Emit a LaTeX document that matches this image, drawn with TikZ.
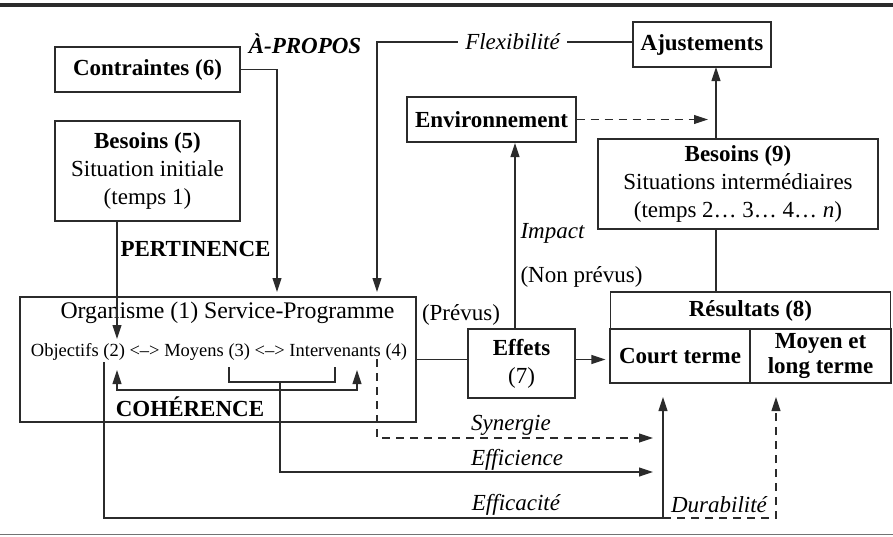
\documentclass[tikz,border=0pt]{standalone}
\usepackage{fontspec}
\setmainfont{Liberation Serif}
\usetikzlibrary{calc,arrows.meta}
\definecolor{ink}{HTML}{2B2B2B}

\begin{document}
\begin{tikzpicture}[x=1pt,y=-1pt,
  font=\fontsize{23}{28}\selectfont, line width=1.1pt,
  ln/.style={draw=ink},
  box/.style={draw=ink,inner sep=0pt,align=center},
  lbl/.style={inner sep=1pt},
  arr/.style={draw=ink,-{Triangle[length=14pt,width=9pt]}},
  darr/.style={draw=ink,{Triangle[length=14pt,width=9pt]}-{Triangle[length=14pt,width=9pt]}},
  dsh/.style={dash pattern=on 8pt off 6pt}]

  \useasboundingbox (0,0) rectangle (893,536);
  \draw[ln,line width=3.5pt] (0,5) -- (893,5);
  \draw[draw=black!55,line width=1pt] (0,534) -- (893,534);

  % boxes
  \node[box,minimum width=185pt,minimum height=45pt] (contr) at (147.5,69.5) {\bfseries Contraintes (6)};
  \node[box,minimum width=185pt,minimum height=100pt] (bes5) at (147.5,171) {\textbf{Besoins (5)}\\Situation initiale\\(temps 1)};
  \node[box,minimum width=138pt,minimum height=45pt] (ajust) at (702,44.5) {\bfseries Ajustements};
  \node[box,minimum width=169pt,minimum height=45pt] (env) at (491.5,119.5) {\bfseries Environnement};
  \node[box,minimum width=280pt,minimum height=90pt] (bes9) at (738,184) {\textbf{Besoins (9)}\\Situations intermédiaires\\(temps 2… 3… 4… \textit{n})};
  \node[box,minimum width=396pt,minimum height=125pt] (org) at (218,359.5) {};
  \node[lbl] (orgT) at (227.5,313) {\fontsize{23.8}{28}\selectfont Organisme (1) Service-Programme};
  \node[lbl] (orgS) at (219,352) {\fontsize{18.5}{22}\selectfont Objectifs (2) <–> Moyens (3) <–> Intervenants (4)};
  \node[box,minimum width=107pt,minimum height=69pt] (effets) at (521.5,363.5) {\textbf{Effets}\\(7)};
  \node[box,minimum width=280pt,minimum height=37pt] (res) at (750.5,310.5) {\bfseries Résultats (8)};
  \node[box,minimum width=140pt,minimum height=54pt] (court) at (680,356) {\bfseries Court terme};
  \node[box,minimum width=141pt,minimum height=54pt,font=\fontsize{23}{25}\selectfont\bfseries] (moyen) at (820.5,356) {Moyen et\\long terme};

  % labels
  \node[lbl] (apropos) at (305,44) {\bfseries\itshape À-PROPOS};
  \node[lbl] (pert) at (195.5,249) {\bfseries PERTINENCE};
  \node[lbl] (coh) at (190,407) {\bfseries COHÉRENCE};
  \node[inner sep=7pt] (flex) at (512.5,42) {\itshape Flexibilité};
  \node[lbl,anchor=west] (impact) at (519,233) {\itshape Impact};
  \node[lbl,anchor=west] (nonprev) at (519,277) {(Non prévus)};
  \node[lbl] (prevus) at (461,315) {(Prévus)};
  \node[lbl] (syn) at (511,425) {\itshape Synergie};
  \node[lbl] (effi) at (517,460) {\itshape Efficience};
  \node[lbl] (effc) at (516,505) {\itshape Efficacité};
  \node[lbl] (dur) at (719,505) {\itshape Durabilité};

  \coordinate (apIn)   at (277,292);
  \coordinate (pertIn) at (117,339);
  \coordinate (flexIn) at (377,292);
  \coordinate (envIn)  at (708,119.5);
  \coordinate (ajIn)   at (716,67);
  \coordinate (impIn)  at (515,143);
  \coordinate (cohL)   at (117,370);
  \coordinate (cohR)   at (357,370);
  \coordinate (moyL)   at (229,367);
  \coordinate (moyR)   at (335,367);
  \coordinate (moyM)   at (280,382);
  \coordinate (effiIn) at (653,472);
  \coordinate (synOut) at (377,359);
  \coordinate (synIn)  at (653,438);
  \coordinate (objOut) at (104,362);
  \coordinate (effcK)  at (663,518);
  \coordinate (courtIn) at (663,397);
  \coordinate (moyIn)  at (776,397);

  % connectors
  \draw[arr] (contr.east) -| (apIn);
  \draw[arr] (pertIn |- bes5.south) -- (pertIn);
  \draw[ln] (flex.east) -- (flex.east -| ajust.west);
  \draw[arr] (flex.west) -| (flexIn);
  \draw[arr,dsh] (env.east) -- (envIn);
  \draw[arr] (ajIn |- bes9.north) -- (ajIn);
  \draw[ln] (ajIn |- bes9.south) -- (ajIn |- res.north);
  \draw[arr] (impIn |- effets.north) -- (impIn);
  \draw[ln] (org.east) -- (org.east -| effets.west);
  \draw[arr,shorten >=4pt] (org.east -| effets.east) -- (org.east -| court.west);

  \draw[darr] (cohL) -- ++(0,20) -| (cohR);
  \draw[ln] (moyL) -- ++(0,15) -| (moyR);
  \draw[arr] (moyM) |- (effiIn);
  \draw[arr,dsh] (synOut) |- (synIn);
  \draw[arr] (objOut) |- (effcK) -- (courtIn);
  \draw[arr,dsh] (effcK) -| (moyIn);

\end{tikzpicture}
\end{document}
